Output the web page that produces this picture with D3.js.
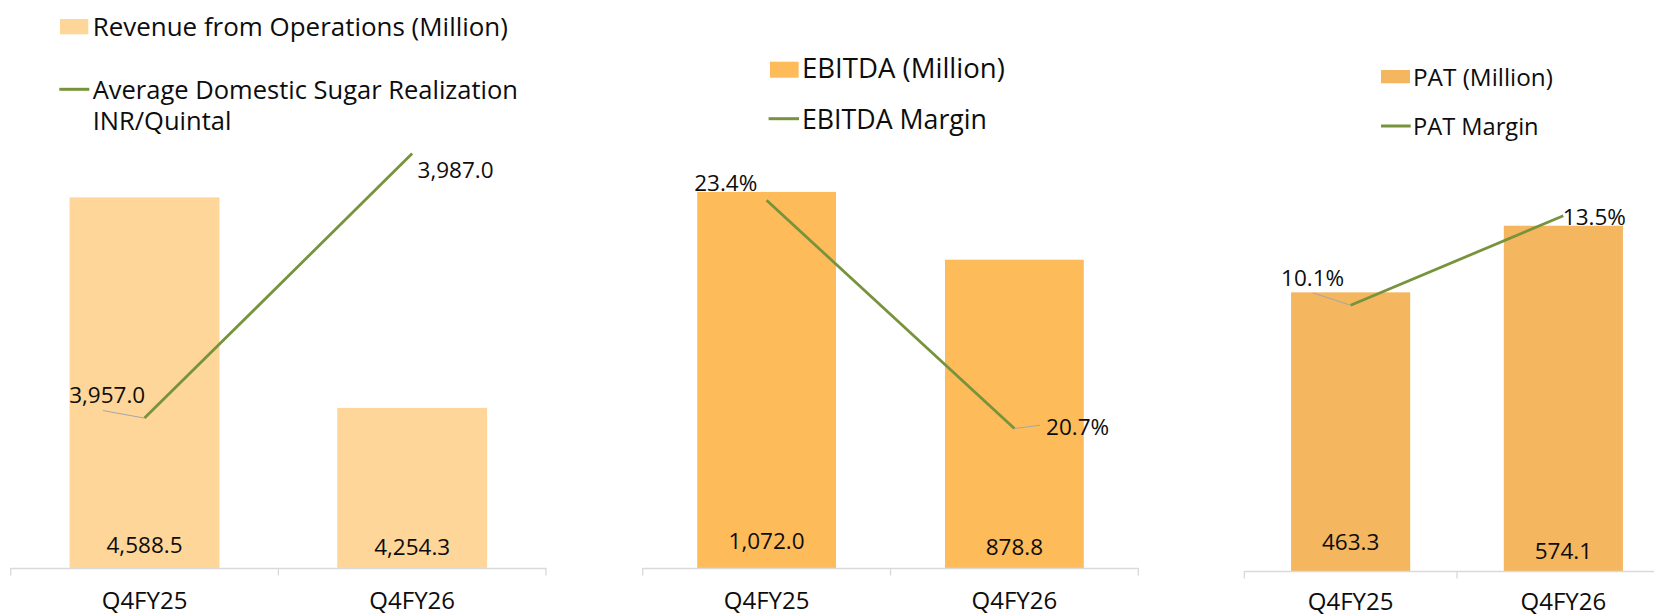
<!DOCTYPE html>
<html>
<head>
<meta charset="utf-8">
<script src="https://cdn.jsdelivr.net/npm/d3@7"></script>
<style>
  html, body { margin: 0; padding: 0; background: #ffffff; }
  svg { display: block; }
  text { font-family: "Open Sans", "Noto Sans", sans-serif; fill: #0d0d0d; }
</style>
</head>
<body>
<svg id="chart" width="1654" height="616"></svg>
<script>
// ---------------- DATA ----------------
const categories = ["Q4FY25", "Q4FY26"];

const revenue = [4588.5, 4254.3];            // Revenue from Operations (Million)
const sugarRealization = [3957.0, 3987.0];   // Average Domestic Sugar Realization INR/Quintal

const ebitda = [1072.0, 878.8];              // EBITDA (Million)
const ebitdaMargin = [23.4, 20.7];           // EBITDA Margin %

const pat = [463.3, 574.1];                  // PAT (Million)
const patMargin = [10.1, 13.5];              // PAT Margin %

const barLegends = ["Revenue from Operations (Million)", "EBITDA (Million)", "PAT (Million)"];
const lineLegends = [["Average Domestic Sugar Realization", "INR/Quintal"], ["EBITDA Margin"], ["PAT Margin"]];

// ---------------- LAYOUT ----------------
const fmtBar = d3.format(",.1f");
const fmtPct = v => d3.format(".1f")(v) + "%";

const panels = [
  {
    bars: revenue, line: sugarRealization, barFmt: fmtBar, lineFmt: fmtBar,
    barLegend: barLegends[0], lineLegend: lineLegends[0],
    xRange: [10.7, 546], base: 568, top: 39,
    barDomain: [4000, 4840], lineDomain: [3940, 4000],
    barColor: "#FED699",
    legBox: {x: 60, y: 19, w: 28.3, h: 15.3}, legText1: {x: 92.7, cy: 27, w: 415.3},
    legLine: {x1: 59.3, x2: 89.3, y: 89.3}, legText2: {x: 92.7, cy: [89.5, 121], w: 425.3},
    valueCy: [545, 546.7],
    pointLabels: [
      {anchor: "end", dx: 0.7, dy: -23.3, leader: [-41.7, -7.6]},
      {anchor: "start", dx: 5.4, dy: 16.7}
    ],
    catCy: 600.5
  },
  {
    bars: ebitda, line: ebitdaMargin, barFmt: fmtBar, lineFmt: fmtPct,
    barLegend: barLegends[1], lineLegend: lineLegends[1],
    xRange: [642.7, 1138.3], base: 568, top: 147,
    barDomain: [0, 1200], lineDomain: [19.05, 24.03],
    barColor: "#FDBB5A",
    legBox: {x: 770, y: 61.7, w: 28.6, h: 16}, legText1: {x: 802, cy: 68, w: 203},
    legLine: {x1: 768.6, x2: 799, y: 118.7}, legText2: {x: 802, cy: [119], w: 185},
    valueCy: [541, 546.7],
    pointLabels: [
      {anchor: "end", dx: -9.3, dy: -17.7},
      {anchor: "start", dx: 31.7, dy: -1.6, leader: [25.7, -3.3]}
    ],
    catCy: 600.5
  },
  {
    bars: pat, line: patMargin, barFmt: fmtBar, lineFmt: fmtPct,
    barLegend: barLegends[2], lineLegend: lineLegends[2],
    xRange: [1244.3, 1669.7], base: 571, top: 150,
    barDomain: [0, 700], lineDomain: [0, 16],
    barColor: "#F4B65E",
    legBox: {x: 1381, y: 70, w: 29, h: 13.3}, legText1: {x: 1413, cy: 77.7, w: 140},
    legLine: {x1: 1381, x2: 1410.7, y: 126}, legText2: {x: 1413, cy: [126.7], w: 125.7},
    valueCy: [542, 551],
    pointLabels: [
      {anchor: "end", dx: -6.5, dy: -27.3, leader: [-37.5, -12.3]},
      {anchor: "start", dx: -0.5, dy: 1.3}
    ],
    catCy: 601
  }
];

const LINE_COLOR = "#77933C";
const LEADER_COLOR = "#A6A6A6";
const AXIS_COLOR = "#D9D9D9";
const CAP = 0.357;           // half of Open Sans cap-height (em)
const VALUE_FS = 22.5;
const CAT_FS = 24;

const svg = d3.select("#chart");

function fitWidth(sel, target) {
  const len = sel.node().getComputedTextLength();
  const fs = parseFloat(sel.attr("font-size"));
  const nfs = fs * target / len;
  sel.attr("font-size", nfs);
  return nfs;
}

panels.forEach(p => {
  const g = svg.append("g");

  const x = d3.scaleBand().domain(categories).range(p.xRange)
    .paddingInner(0.44).paddingOuter(0.22);
  const yBar = d3.scaleLinear().domain(p.barDomain).range([p.base, p.top]);
  const yLine = d3.scaleLinear().domain(p.lineDomain).range([p.base, p.top]);
  const cx = c => x(c) + x.bandwidth() / 2;

  // bars
  g.selectAll("rect.bar").data(categories).join("rect")
    .attr("class", "bar")
    .attr("x", c => x(c))
    .attr("width", x.bandwidth())
    .attr("y", (c, i) => yBar(p.bars[i]))
    .attr("height", (c, i) => p.base - yBar(p.bars[i]))
    .attr("fill", p.barColor);

  // axis baseline + boundary ticks
  const step = x.step();
  const bounds = [p.xRange[0], p.xRange[0] + step, p.xRange[0] + 2 * step];
  g.append("line")
    .attr("x1", p.xRange[0]).attr("x2", p.xRange[1])
    .attr("y1", p.base + 0.5).attr("y2", p.base + 0.5)
    .attr("stroke", AXIS_COLOR).attr("stroke-width", 1.3);
  g.selectAll("line.tick").data(bounds).join("line")
    .attr("class", "tick")
    .attr("x1", d => d).attr("x2", d => d)
    .attr("y1", p.base).attr("y2", p.base + 7.5)
    .attr("stroke", AXIS_COLOR).attr("stroke-width", 1.3);

  // category labels via d3 axis
  const axisG = g.append("g")
    .attr("transform", `translate(0,${p.catCy + CAP * CAT_FS})`)
    .call(d3.axisBottom(x).tickSize(0).tickPadding(0));
  axisG.select(".domain").remove();
  axisG.selectAll("text")
    .attr("dy", null).attr("y", 0)
    .attr("font-size", CAT_FS)
    .attr("font-family", "'Open Sans', sans-serif")
    .attr("fill", "#0d0d0d");

  // value labels (inside base)
  g.selectAll("text.val").data(categories).join("text")
    .attr("class", "val")
    .attr("x", c => cx(c))
    .attr("y", (c, i) => p.valueCy[i] + CAP * VALUE_FS)
    .attr("text-anchor", "middle")
    .attr("font-size", VALUE_FS)
    .text((c, i) => p.barFmt(p.bars[i]));

  // leader lines
  p.pointLabels.forEach((lab, i) => {
    if (!lab.leader) return;
    const px = cx(categories[i]), py = yLine(p.line[i]);
    g.append("line")
      .attr("x1", px + lab.leader[0]).attr("y1", py + lab.leader[1])
      .attr("x2", px).attr("y2", py)
      .attr("stroke", LEADER_COLOR).attr("stroke-width", 1);
  });

  // line series
  const lineGen = d3.line().x(d => cx(d.c)).y(d => yLine(d.v));
  g.append("path")
    .datum(categories.map((c, i) => ({c, v: p.line[i]})))
    .attr("d", lineGen)
    .attr("fill", "none")
    .attr("stroke", LINE_COLOR)
    .attr("stroke-width", 2.8);

  // line point labels
  p.pointLabels.forEach((lab, i) => {
    const px = cx(categories[i]), py = yLine(p.line[i]);
    g.append("text")
      .attr("x", px + lab.dx)
      .attr("y", py + lab.dy + CAP * VALUE_FS)
      .attr("text-anchor", lab.anchor)
      .attr("font-size", VALUE_FS)
      .text(p.lineFmt(p.line[i]));
  });

  // legend
  const lb = p.legBox;
  g.append("rect").attr("x", lb.x).attr("y", lb.y).attr("width", lb.w).attr("height", lb.h)
    .attr("fill", p.barColor);
  const t1 = g.append("text").attr("x", p.legText1.x).attr("font-size", 25).text(p.barLegend);
  const fs1 = fitWidth(t1, p.legText1.w);
  t1.attr("y", p.legText1.cy + CAP * fs1);

  const ll = p.legLine;
  g.append("line").attr("x1", ll.x1).attr("x2", ll.x2).attr("y1", ll.y).attr("y2", ll.y)
    .attr("stroke", LINE_COLOR).attr("stroke-width", 3);
  let fs2 = 25;
  p.lineLegend.forEach((txt, k) => {
    const t = g.append("text").attr("x", p.legText2.x).attr("font-size", fs2).text(txt);
    if (k === 0) fs2 = fitWidth(t, p.legText2.w);
    t.attr("font-size", fs2).attr("y", p.legText2.cy[k] + CAP * fs2);
  });
});
</script>
</body>
</html>
